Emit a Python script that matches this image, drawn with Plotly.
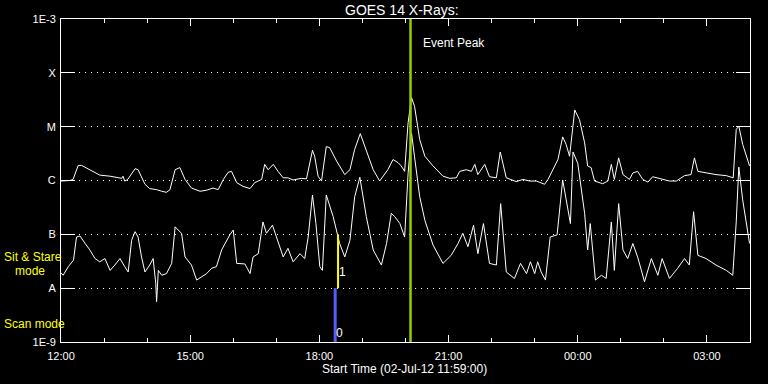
import plotly.graph_objects as go
import numpy as np
import pandas as pd

# ---------------- data ----------------
t0 = pd.Timestamp("2012-07-02 12:00")

# GOES 14 long channel (1-8 A), hours after 12:00 and log10(flux W/m^2)
long_hours = [-0.02, 0.21, 0.28, 0.40, 0.48, 0.74, 0.90, 1.14, 1.41, 1.44, 1.48, 1.55, 1.72, 1.79,
              1.95, 2.06, 2.22, 2.34, 2.45, 2.53, 2.65, 2.76, 2.88, 3.03, 3.23, 3.38, 3.53, 3.65,
              3.77, 3.88, 3.96, 4.08, 4.23, 4.39, 4.50, 4.66, 4.73, 4.81, 4.93, 5.04, 5.16, 5.27,
              5.39, 5.58, 5.70, 5.84, 5.89, 5.97, 6.05, 6.16, 6.24, 6.40, 6.59, 6.71, 6.82, 6.95,
              7.09, 7.25, 7.40, 7.52, 7.59, 7.71, 7.83, 7.90, 7.98, 8.06, 8.14, 8.21, 8.33, 8.45,
              8.64, 8.87, 9.03, 9.18, 9.26, 9.41, 9.53, 9.61, 9.68, 9.84, 9.95, 10.11, 10.20, 10.34,
              10.57, 10.73, 10.88, 11.04, 11.23, 11.31, 11.42, 11.54, 11.65, 11.73, 11.81, 11.93,
              12.04, 12.16, 12.23, 12.31, 12.39, 12.58, 12.70, 12.78, 12.85, 12.95, 13.05, 13.20,
              13.28, 13.39, 13.51, 13.63, 13.74, 13.94, 14.13, 14.29, 14.48, 14.63, 14.71, 14.79,
              14.98, 15.21, 15.45, 15.61, 15.68, 15.74, 15.83, 15.99]
long_log = [-6.01, -6.00, -5.98, -5.72, -5.72, -5.83, -5.90, -5.92, -5.96, -5.92, -6.01, -5.98, -5.78, -5.80,
            -6.07, -6.15, -6.17, -6.20, -6.22, -6.17, -5.80, -5.76, -5.98, -6.14, -6.20, -6.18, -6.14, -6.17,
            -5.98, -5.85, -5.83, -6.04, -6.11, -6.15, -6.04, -5.98, -5.70, -5.80, -5.70, -5.83, -5.95, -5.95,
            -5.99, -5.96, -5.97, -5.44, -5.55, -5.92, -6.01, -5.37, -5.39, -5.64, -5.89, -5.80, -5.42, -5.13,
            -5.46, -5.80, -6.01, -5.89, -5.80, -5.61, -5.67, -5.73, -5.83, -4.93, -4.46, -4.62, -5.24, -5.55,
            -5.73, -5.92, -5.96, -5.95, -5.83, -5.80, -5.83, -5.70, -5.89, -5.70, -5.93, -5.95, -5.47, -5.95,
            -6.02, -5.98, -6.01, -6.01, -6.07, -5.98, -5.80, -5.61, -5.19, -5.33, -5.55, -4.69,
            -4.87, -5.30, -5.73, -5.76, -6.01, -6.06, -6.01, -5.70, -5.98, -5.58, -5.89, -5.98,
            -5.86, -5.83, -5.98, -6.03, -5.93, -5.97, -6.01, -6.01, -5.91, -5.89, -5.58, -5.83,
            -5.86, -5.89, -5.91, -5.95, -5.05, -4.99, -5.33, -5.73]

# GOES 14 short channel (0.5-4 A)
short_hours = [-0.02, 0.05, 0.17, 0.29, 0.36, 0.44, 0.56, 0.67, 0.79, 0.90, 1.02, 1.14, 1.25, 1.37,
               1.48, 1.56, 1.64, 1.72, 1.79, 1.87, 1.95, 2.06, 2.14, 2.20, 2.22, 2.26, 2.34, 2.45,
               2.57, 2.65, 2.72, 2.80, 2.88, 3.03, 3.15, 3.26, 3.38, 3.50, 3.61, 3.73, 3.84, 3.92,
               4.00, 4.08, 4.27, 4.39, 4.46, 4.58, 4.69, 4.77, 4.91, 5.00, 5.16, 5.27, 5.39, 5.55,
               5.66, 5.74, 5.84, 5.92, 6.01, 6.07, 6.16, 6.32, 6.47, 6.59, 6.71, 6.82, 6.94, 7.09,
               7.25, 7.44, 7.56, 7.67, 7.75, 7.87, 7.98, 8.06, 8.14, 8.21, 8.33, 8.45, 8.64, 8.87,
               9.06, 9.22, 9.33, 9.45, 9.58, 9.68, 9.81, 9.95, 10.11, 10.21, 10.34, 10.53, 10.67,
               10.81, 10.90, 11.00, 11.07, 11.15, 11.25, 11.36, 11.52, 11.65, 11.73, 11.83, 11.89,
               12.00, 12.16, 12.23, 12.29, 12.41, 12.55, 12.66, 12.78, 12.85, 12.95, 13.05, 13.16,
               13.28, 13.39, 13.55, 13.71, 13.86, 13.96, 14.13, 14.32, 14.48, 14.59, 14.69, 14.79,
               14.98, 15.21, 15.45, 15.60, 15.68, 15.74, 15.83, 15.99]
short_log = [-7.70, -7.76, -7.60, -7.48, -7.05, -7.03, -7.17, -7.29, -7.45, -7.51, -7.45, -7.67, -7.57, -7.45,
             -7.60, -7.70, -7.11, -6.95, -7.05, -7.42, -7.70, -7.57, -7.45, -7.91, -8.25, -7.67, -7.76, -7.73,
             -7.54, -6.86, -6.92, -6.98, -7.42, -7.57, -7.85, -7.79, -7.73, -7.63, -7.60, -7.29, -7.11, -7.01,
             -6.92, -7.54, -7.55, -7.73, -7.42, -7.36, -6.77, -6.98, -6.83, -7.05, -7.42, -7.26, -7.51, -7.36,
             -7.45, -7.05, -6.27, -6.80, -7.60, -7.67, -6.27, -6.67, -7.17, -7.42, -7.11, -6.30, -5.94, -6.67,
             -7.29, -7.57, -7.17, -6.61, -6.67, -6.80, -7.05, -5.87, -5.12, -5.56, -6.30, -6.74, -7.20, -7.54,
             -7.39, -7.17, -6.98, -7.23, -6.83, -7.36, -6.80, -7.54, -7.57, -6.43, -7.70, -7.82, -7.54,
             -7.73, -7.51, -7.73, -7.51, -7.70, -7.85, -7.05, -7.01, -5.99, -6.36, -6.80, -5.47,
             -5.68, -6.61, -7.29, -6.80, -7.85, -7.76, -7.82, -6.77, -7.67, -6.43, -7.29, -7.45,
             -7.17, -7.42, -7.88, -7.45, -7.76, -7.45, -7.82, -7.63, -7.45, -7.57, -6.58, -7.39,
             -7.45, -7.57, -7.67, -7.76, -6.77, -5.75, -6.36, -7.17]

ytick_vals = [1e-9, 1e-8, 1e-7, 1e-6, 1e-5, 1e-4, 1e-3]
ytick_text = ["1E-9", "A", "B", "C", "M", "X", "1E-3"]

event_peak = pd.Timestamp("2012-07-02 20:07")
scan_time = pd.Timestamp("2012-07-02 18:22")
sit_time = pd.Timestamp("2012-07-02 18:26")
scan_range = [1e-9, 1e-8]
sit_range = [1e-8, 1e-7]

FONT = "Liberation Sans"

def to_time(hours):
    return t0 + pd.to_timedelta(np.array(hours), unit="h")

fig = go.Figure()
fig.add_trace(go.Scatter(x=to_time(long_hours), y=10 ** np.array(long_log), mode="lines",
                         line=dict(color="white", width=1), showlegend=False))
fig.add_trace(go.Scatter(x=to_time(short_hours), y=10 ** np.array(short_log), mode="lines",
                         line=dict(color="white", width=1), showlegend=False))
# instrument mode bars
fig.add_trace(go.Scatter(x=[scan_time, scan_time], y=scan_range, mode="lines",
                         line=dict(color="#5a5aff", width=3), showlegend=False))
fig.add_trace(go.Scatter(x=[sit_time, sit_time], y=sit_range, mode="lines",
                         line=dict(color="#ffff00", width=2), showlegend=False))
# event peak line
fig.add_trace(go.Scatter(x=[event_peak, event_peak], y=[1e-9, 1e-3], mode="lines",
                         line=dict(color="#9acd00", width=2.5), showlegend=False))

annotations = [
    dict(text="GOES 14 X-Rays:", xref="paper", yref="paper", x=0.495, y=1.028,
         xanchor="center", yanchor="middle", showarrow=False,
         font=dict(family=FONT, size=14, color="white")),
    dict(text="Start Time (02-Jul-12 11:59:00)", xref="paper", yref="paper", x=0.499, y=-0.084,
         xanchor="center", yanchor="middle", showarrow=False,
         font=dict(family=FONT, size=12, color="white")),
    dict(text="Event Peak", xref="x", yref="paper", x=event_peak, xshift=10, y=0.926,
         xanchor="left", yanchor="middle", showarrow=False,
         font=dict(family=FONT, size=12, color="white")),
    dict(text="Sit & Stare", xref="paper", yref="paper", x=-0.0856, y=0.262,
         xanchor="left", yanchor="middle", showarrow=False,
         font=dict(family=FONT, size=12, color="#ffff00")),
    dict(text="mode", xref="paper", yref="paper", x=-0.07, y=0.220,
         xanchor="left", yanchor="middle", showarrow=False,
         font=dict(family=FONT, size=12, color="#ffff00")),
    dict(text="Scan mode", xref="paper", yref="paper", x=-0.0856, y=0.056,
         xanchor="left", yanchor="middle", showarrow=False,
         font=dict(family=FONT, size=12, color="#ffff00")),
    dict(text="1", xref="x", yref="paper", x=sit_time, xshift=4, y=0.217,
         xanchor="center", yanchor="middle", showarrow=False,
         font=dict(family=FONT, size=12, color="white")),
    dict(text="0", xref="x", yref="paper", x=scan_time, xshift=4, y=0.028,
         xanchor="center", yanchor="middle", showarrow=False,
         font=dict(family=FONT, size=12, color="white")),
]

fig.update_layout(
    width=768, height=384,
    paper_bgcolor="black", plot_bgcolor="black",
    margin=dict(l=61, r=18, t=19, b=42),
    font=dict(family=FONT, color="white", size=11),
    annotations=annotations,
    xaxis=dict(
        type="date",
        range=[t0, t0 + pd.Timedelta(hours=16)],
        tickmode="linear", tick0=t0, dtick=3 * 3600 * 1000, tickformat="%H:%M",
        ticks="inside", ticklen=7, tickcolor="white", tickwidth=1,
        showline=True, linecolor="white", linewidth=1, mirror="ticks",
        showgrid=False, zeroline=False,
        tickfont=dict(family=FONT, size=11, color="white"),
        ticklabelstandoff=4,
        minor=dict(tickmode="linear", tick0=t0, dtick=3600 * 1000, ticks="inside",
                   ticklen=4, tickcolor="white", showgrid=False),
    ),
    yaxis=dict(
        type="log", range=[-9, -3],
        tickmode="array", tickvals=ytick_vals, ticktext=ytick_text,
        ticks="inside", ticklen=14, tickcolor="white", tickwidth=1,
        showline=True, linecolor="white", linewidth=1, mirror="ticks",
        showgrid=True, gridcolor="white", gridwidth=1, griddash="1px,5px",
        zeroline=False,
        tickfont=dict(family=FONT, size=11, color="white"),
        ticklabelstandoff=2,
    ),
)

fig.write_html("out.html", config={"displayModeBar": False},
               post_script="document.body.style.margin='0';document.body.style.background='black';")
